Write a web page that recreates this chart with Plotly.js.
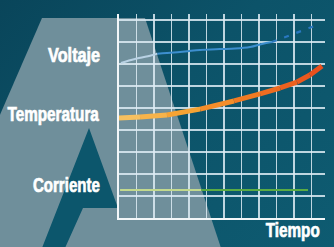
<!DOCTYPE html>
<html>
<head>
<meta charset="utf-8">
<script src="https://cdn.plot.ly/plotly-3.0.1.min.js"></script>
<style>
  html, body { margin: 0; padding: 0; background: #0c5369; }
  #chart { width: 334px; height: 247px;
    background: linear-gradient(135deg, #09455a 0%, #0c5369 45%, #0e5b71 100%); }
</style>
</head>
<body>
<div id="chart"></div>
<script>
// ---- data (time in grid units, values in grid units) ----
const tiempoVoltaje = [0.11, 0.91, 1.94, 2.2, 2.74, 3.77, 4.63, 5.77, 6.63, 7.49, 8.17, 8.74];
const voltaje       = [7.05, 7.23, 7.41, 7.47, 7.5, 7.57, 7.64, 7.68, 7.70, 7.77, 7.91, 8.0];
const tiempoVoltajeFin = [8.74, 9.49, 10.17, 11.03, 11.49];
const voltajeFin       = [8.0, 8.23, 8.41, 8.68, 8.82];

const tiempoTemp  = [0, 1.2, 2.74, 4.63, 6.57, 8.06, 9.2, 10.17, 10.91, 11.6];
const temperatura = [4.55, 4.59, 4.68, 4.95, 5.32, 5.64, 5.91, 6.18, 6.5, 6.91];

const tiempoCorr = [0.06, 4.7, 10.8];
const corriente  = [1.27, 1.27, 1.27];

const etiquetas = ['Voltaje', 'Temperatura', 'Corriente'];
const ejeX = 'Tiempo';

// ---- layout helpers (pixel -> paper) ----
const W = 334, H = 247, L = 119, R = 325, T = 14, B = 218;
const px = x => (x - L) / (R - L);
const py = y => (B - y) / (B - T);
const path = pts => 'M' + pts.map(p => px(p[0]).toFixed(4) + ',' + py(p[1]).toFixed(4)).join('L') + 'Z';

const traces = [];
// Corriente: pale on grey part, green on teal part
traces.push({x: tiempoCorr.slice(0, 2), y: corriente.slice(0, 2), mode: 'lines',
  line: {color: '#c2d98e', width: 2}, hoverinfo: 'skip'});
traces.push({x: tiempoCorr.slice(1), y: corriente.slice(1), mode: 'lines',
  line: {color: '#5aab44', width: 2}, hoverinfo: 'skip'});

// Voltaje
traces.push({x: tiempoVoltaje.slice(0, 4), y: voltaje.slice(0, 4), mode: 'lines',
  line: {color: '#b9d2e4', width: 2, shape: 'spline'}, hoverinfo: 'skip'});
traces.push({x: tiempoVoltaje.slice(3), y: voltaje.slice(3), mode: 'lines',
  line: {color: '#3d8fcf', width: 2, shape: 'spline'}, hoverinfo: 'skip'});
traces.push({x: tiempoVoltajeFin, y: voltajeFin, mode: 'lines',
  line: {color: '#2a78c0', width: 2.2, dash: '5px,8px'}, hoverinfo: 'skip'});

// Temperatura with colour gradient along the segments
const stops = [[0, [247, 198, 104]], [3.4, [246, 166, 52]], [7, [242, 126, 36]], [11.6, [232, 76, 28]]];
function grad(t) {
  for (let i = 0; i < stops.length - 1; i++) {
    const [a, ca] = stops[i], [b, cb] = stops[i + 1];
    if (t <= b) {
      const f = Math.max(0, (t - a) / (b - a));
      return 'rgb(' + ca.map((c, k) => Math.round(c + (cb[k] - c) * f)).join(',') + ')';
    }
  }
  return 'rgb(' + stops[stops.length - 1][1].join(',') + ')';
}
for (let i = 0; i < tiempoTemp.length - 1; i++) {
  traces.push({x: tiempoTemp.slice(i, i + 2), y: temperatura.slice(i, i + 2), mode: 'lines',
    line: {color: grad((tiempoTemp[i] + tiempoTemp[i + 1]) / 2), width: 5}, hoverinfo: 'skip'});
}

const fnt = {family: '"Liberation Sans", Arial, sans-serif', size: 20, color: '#ffffff', weight: 'bold'};

// label positions (right edge px, cap-centre px, target width px)
const labelY = [55, 114, 185];
const labelW = [52, 92, 67];
const annotations = etiquetas.map((t, i) => ({
  text: t, xref: 'paper', yref: 'paper', x: px(102), y: py(labelY[i]),
  xanchor: 'right', yanchor: 'middle', showarrow: false, font: fnt
}));
annotations.push({text: ejeX, xref: 'paper', yref: 'paper', x: px(322), y: py(230),
  xanchor: 'right', yanchor: 'middle', showarrow: false, font: fnt});
const targetW = labelW.concat([54]);

const layout = {
  width: W, height: H,
  margin: {l: L, r: W - R, t: T, b: H - B, pad: 0},
  paper_bgcolor: 'rgba(0,0,0,0)', plot_bgcolor: 'rgba(0,0,0,0)',
  showlegend: false,
  xaxis: {range: [0, (R - L) / 17.5], dtick: 1, tick0: 0, showticklabels: false, ticks: '',
    showgrid: true, gridcolor: 'rgba(222,236,244,0.85)', gridwidth: 1.5, zeroline: false,
    showline: true, linecolor: '#f2f6f8', linewidth: 2, fixedrange: true},
  yaxis: {range: [0, (B - T) / 22], dtick: 1, tick0: 0, showticklabels: false, ticks: '',
    showgrid: true, gridcolor: 'rgba(222,236,244,0.85)', gridwidth: 1.5, zeroline: false,
    showline: true, linecolor: '#f2f6f8', linewidth: 2, fixedrange: true},
  shapes: [
    {type: 'path', xref: 'paper', yref: 'paper', layer: 'below', line: {width: 0},
     fillcolor: '#6f8f9b', path: path([[42, 18], [145, 18], [221, 248], [-1, 248], [-1, 117]])},
    {type: 'path', xref: 'paper', yref: 'paper', layer: 'below', line: {width: 0},
     fillcolor: '#0c566c', path: path([[89, 128], [118, 208], [83, 208], [65, 248], [42, 248]])}
  ],
  annotations: annotations
};

Plotly.newPlot('chart', traces, layout, {displayModeBar: false, staticPlot: true}).then(gd => {
  // condense label text horizontally (the original uses a condensed bold face)
  gd.querySelectorAll('.annotation').forEach(g => {
    const i = +g.getAttribute('data-index');
    const txt = g.querySelector('.annotation-text');
    if (!txt || isNaN(i)) return;
    txt.style.stroke = '#ffffff';
    txt.style.strokeWidth = '0.7px';
    txt.style.paintOrder = 'stroke';
    const bb = txt.getBBox();
    const s = targetW[i] / bb.width;
    const rx = bb.x + bb.width;
    txt.setAttribute('transform', `translate(${rx},0) scale(${s},1) translate(${-rx},0)`);
  });
});
</script>
</body>
</html>
